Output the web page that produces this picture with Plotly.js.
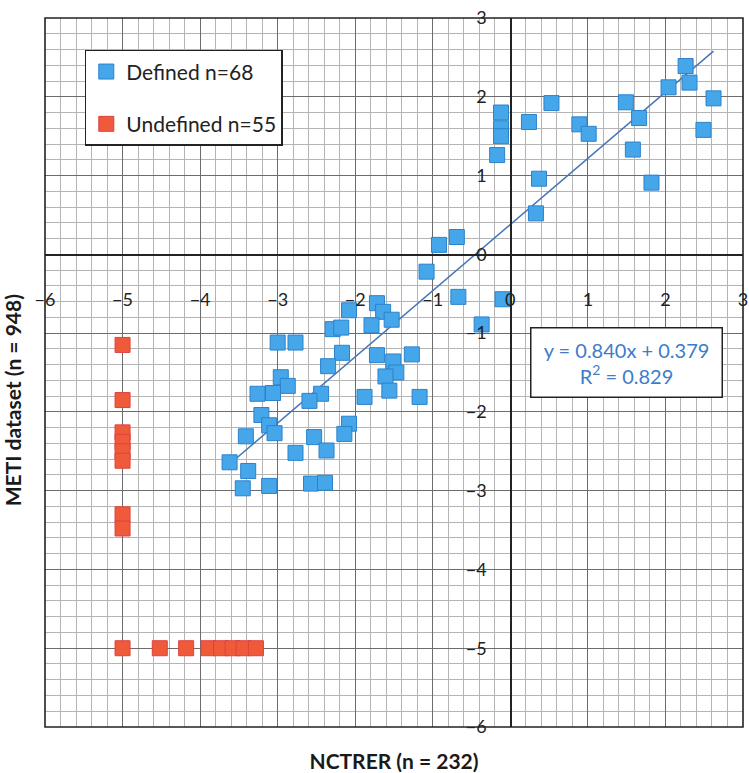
<!DOCTYPE html>
<html><head><meta charset="utf-8">
<script src="https://cdn.plot.ly/plotly-3.0.1.min.js"></script>
<style>body{margin:0;background:#fff}</style>
</head><body><div id="chart" style="width:749px;height:773px"></div>
<script>
// Defined compounds (blue)
var definedX = [-1.72,-2.08,-1.64,-1.53,-2.29,-2.18,-1.79,-3.0,-2.77,-2.17,-1.72,-1.27,-1.51,-2.35,-1.47,-1.61,-2.96,-2.87,-3.26,-3.06,-2.44,-2.59,-1.88,-1.56,-1.17,-3.21,-3.11,-3.04,-3.41,-2.08,-2.14,-2.53,-2.37,-2.77,-3.62,-3.38,-3.45,-3.11,-2.57,-2.39,
                2.26,2.04,2.31,2.62,2.49,1.49,1.66,1.58,1.82,0.89,1.01,0.53,0.24,0.37,0.33,-0.12,-0.12,-0.12,-0.17,-0.69,-0.92,-1.08,-0.67,-0.10,-0.37];
var definedY = [-0.62,-0.71,-0.73,-0.83,-0.95,-0.93,-0.90,-1.12,-1.12,-1.25,-1.28,-1.27,-1.36,-1.42,-1.50,-1.55,-1.56,-1.67,-1.77,-1.76,-1.77,-1.86,-1.81,-1.73,-1.81,-2.04,-2.17,-2.27,-2.31,-2.15,-2.28,-2.32,-2.49,-2.52,-2.64,-2.75,-2.97,-2.94,-2.91,-2.90,
                2.39,2.12,2.18,1.98,1.58,1.93,1.73,1.33,0.91,1.65,1.53,1.92,1.68,0.96,0.52,1.80,1.60,1.50,1.26,0.22,0.12,-0.22,-0.54,-0.57,-0.89];
// Undefined compounds (red)
var undefinedX = [-5,-5,-5,-5,-5,-5,-5,-5,-5,-4.52,-4.18,-3.89,-3.73,-3.58,-3.44,-3.28];
var undefinedY = [-1.15,-1.85,-2.26,-2.38,-2.5,-2.62,-3.3,-3.48,-5,-5,-5,-5,-5,-5,-5,-5];
// Trend line
var slope = 0.840, intercept = 0.379, r2 = 0.829;
var trendX = [Math.min.apply(null, definedX), Math.max.apply(null, definedX)];
var trendY = trendX.map(function(v){ return slope*v + intercept; });

var font = 'Lato, "Open Sans", sans-serif';
var traces = [
  {type:'scatter', mode:'lines', x:trendX, y:trendY, line:{color:'#4576b8', width:1.5}, showlegend:false, hoverinfo:'skip'},
  {type:'scatter', mode:'markers', name:'Defined n=68', legendgroup:'a', x:definedX, y:definedY,
   marker:{symbol:'square', size:15, color:'#46a6ea', line:{color:'#2b82cc', width:1}}},
  {type:'scatter', mode:'markers', name:'Undefined n=55', legendgroup:'b', x:undefinedX, y:undefinedY,
   marker:{symbol:'square', size:15, color:'#ef5a3a', line:{color:'#e0413f', width:1}}},
  {type:'scatter', x:[0.5], y:[0.5], xaxis:'x2', yaxis:'y2', mode:'markers', marker:{opacity:0}, showlegend:false, hoverinfo:'skip'}
];
function axBase(){ return {
  domain:[0,1], range:[-6,3], dtick:1, tick0:0, anchor:'free', position:6/9,
  showgrid:true, gridcolor:'#6c6c6c', gridwidth:1,
  minor:{dtick:0.2, tick0:0, showgrid:true, gridcolor:'#b4b4b4', gridwidth:1},
  zeroline:false, showline:true, linecolor:'#222', linewidth:1.6,
  ticks:'', tickfont:{family:font, size:18, color:'#222'}, fixedrange:true
};}
var xaxis = Object.assign(axBase(), {ticklabelstandoff:28});
var yaxis = Object.assign(axBase(), {side:'left', ticklabelstandoff:20});
var layout = {
  width:749, height:773,
  margin:{l:45, r:6, t:18, b:46},
  paper_bgcolor:'#fff', plot_bgcolor:'rgba(0,0,0,0)',
  xaxis:xaxis, yaxis:yaxis,
  xaxis2:{domain:[0,1], anchor:'y2', range:[0,1], showgrid:false, zeroline:false, showline:false, showticklabels:false, ticks:'',
          title:{text:'<b>NCTRER (n = 232)</b>', font:{family:font, size:21, color:'#1a1a1a'}}},
  yaxis2:{domain:[0,0.922], anchor:'x2', range:[0,1], showgrid:false, zeroline:false, showline:false, showticklabels:false, ticks:'',
          title:{text:'<b>METI dataset (n = 948)</b>', font:{family:font, size:21, color:'#1a1a1a'}}},
  showlegend:true,
  legend:{x:0.057, y:0.955, xanchor:'left', yanchor:'top', bgcolor:'#fff', bordercolor:'#222', borderwidth:1.5,
          font:{family:font, size:21, color:'#222'}, tracegroupgap:22, traceorder:'grouped'},
  shapes:[{type:'rect', xref:'paper', yref:'paper', x0:0, x1:1, y0:0, y1:1, line:{color:'#222', width:1.6}}],
  annotations:[{x:1.5, y:-1.37, xref:'x', yref:'y', showarrow:false,
     text:'y = ' + slope.toFixed(3) + 'x + ' + intercept.toFixed(3) + '<br>R<sup>2</sup> = ' + r2.toFixed(3),
     font:{family:font, size:20, color:'#3d7cc9'}, bgcolor:'#fff', bordercolor:'#222', borderwidth:1.5, borderpad:5, width:180, height:58}]
};
Plotly.newPlot('chart', traces, layout, {displayModeBar:false, staticPlot:true});
</script></body></html>
